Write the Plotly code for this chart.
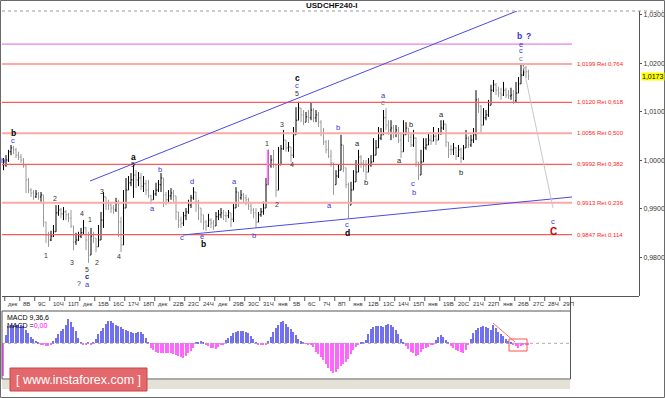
import plotly.graph_objects as go

W, H = 665, 398

title_text = "USDCHF240-I"
day_labels = ["дек", "8В", "9С", "10Ч", "11П", "дек", "15В", "16С", "17Ч", "18П",
              "дек", "22В", "23С", "24Ч", "дек", "29В", "30С", "31Ч", "янв", "5В",
              "6С", "7Ч", "8П", "янв", "12В", "13С", "14Ч", "15П", "янв", "19В",
              "20С", "21Ч", "22П", "янв", "26В", "27С", "28Ч", "29П"]
bars_per_day = 6

y_tick_vals = [0.98, 0.99, 1.00, 1.01, 1.02, 1.03]
y_tick_text = ["0,9800", "0,9900", "1,0000", "1,0100", "1,0200", "1,0300"]

# 4-hour bars, prices in pips relative to 1.0000
close_pips = [
    -9, 1, 18, 26, 22, 11, 7, 1, -11, -40,
    -61, -67, -75, -69, -75, -71, -127, -154, -164, -156,
    -147, -108, -102, -110, -106, -112, -119, -135, -168, -164,
    -156, -149, -139, -164, -195, -156, -160, -178, -164, -123,
    -75, -88, -92, -98, -102, -85, -127, -174, -98, -61,
    -46, -40, -30, -40, -36, -53, -48, -61, -73, -81,
    -69, -61, -50, -36, -71, -81, -73, -67, -73, -106,
    -123, -129, -114, -106, -92, -77, -65, -85, -98, -112,
    -127, -135, -123, -129, -135, -116, -112, -108, -114, -114,
    -108, -121, -98, -65, -77, -71, -77, -81, -94, -102,
    -108, -127, -112, -106, -98, -50, -9, 1, -9, -61,
    -9, 24, 42, 26, 28, 11, 53, 83, 108, 94,
    79, 90, 88, 104, 88, 94, 79, 57, 38, 22,
    9, -5, -50, -32, -20, 32, -15, -50, -92, -61,
    -44, -24, 7, -5, -11, -24, -9, -3, 11, 26,
    46, 53, 88, 73, 63, 67, 57, 63, 42, 18,
    53, 67, 48, 32, 46, -3, -30, -3, 26, 32,
    42, 40, 50, 42, 55, 67, 75, 38, 22, 22,
    26, 9, 22, 5, 26, 46, 32, 42, 53, 125,
    112, 73, 88, 94, 114, 145, 156, 145, 139, 135,
    145, 135, 133, 135, 123, 139, 158, 176, 191, 183,
    174]
high_pips = [
    5, 11, 22, 32, 30, 26, 18, 13, 5, -9,
    -36, -57, -61, -61, -65, -65, -81, -133, -147, -145,
    -133, -92, -92, -98, -96, -102, -108, -102, -139, -149,
    -147, -139, -123, -137, -147, -139, -147, -160, -133, -106,
    -65, -77, -81, -88, -92, -77, -81, -116, -61, -36,
    -32, -26, -5, -20, -24, -26, -32, -40, -40, -71,
    -61, -46, -40, -26, -50, -65, -61, -57, -61, -81,
    -112, -116, -106, -98, -81, -71, -55, -71, -81, -102,
    -112, -123, -110, -119, -123, -106, -102, -98, -102, -106,
    -102, -110, -90, -55, -65, -61, -67, -71, -77, -88,
    -98, -98, -106, -98, -85, -36, 22, 11, 22, -15,
    28, 32, 63, 36, 38, 26, 69, 110, 121, 108,
    104, 100, 104, 119, 108, 104, 100, 83, 67, 42,
    42, 22, -13, -20, -9, 53, 22, -20, -46, -44,
    -20, 1, 22, 11, 1, 1, 5, 11, 46, 42,
    69, 67, 104, 108, 83, 83, 73, 73, 69, 57,
    83, 79, 67, 57, 63, 48, -5, 22, 46, 46,
    57, 53, 69, 57, 67, 83, 83, 73, 38, 32,
    36, 28, 32, 26, 32, 63, 50, 53, 67, 145,
    129, 114, 108, 104, 125, 156, 166, 160, 152, 150,
    162, 150, 145, 150, 145, 162, 172, 197, 201, 195,
    187]
low_pips = [
    -20, -13, -3, 11, 13, 5, 1, -5, -15, -67,
    -67, -75, -81, -77, -81, -85, -137, -170, -178, -166,
    -158, -143, -114, -119, -123, -123, -127, -139, -185, -174,
    -166, -160, -152, -185, -211, -166, -170, -189, -174, -147,
    -139, -102, -102, -108, -110, -106, -158, -189, -116, -71,
    -61, -53, -77, -57, -53, -61, -65, -71, -77, -90,
    -81, -73, -65, -65, -96, -92, -88, -81, -85, -123,
    -139, -139, -135, -123, -110, -98, -81, -106, -123, -129,
    -143, -145, -137, -139, -143, -133, -123, -119, -123, -127,
    -119, -137, -127, -92, -96, -81, -88, -92, -102, -110,
    -119, -139, -127, -116, -112, -92, -36, -15, -15, -75,
    -24, 11, 22, 18, 18, -3, 5, 57, 96, 79,
    73, 79, 77, 83, 79, 79, 69, 50, 32, 15,
    5, -13, -71, -46, -36, -20, -24, -57, -119, -77,
    -53, -34, -5, -15, -24, -40, -24, -13, 5, 15,
    38, 42, 59, 63, 53, 42, 46, 48, 36, 5,
    28, 53, 38, 28, 28, -13, -40, -20, 11, 22,
    32, 32, 42, 32, 42, 53, 63, 28, 5, 11,
    11, 1, 7, -5, 1, 32, 26, 28, 36, 42,
    98, 57, 73, 83, 90, 119, 141, 135, 131, 125,
    133, 129, 127, 125, 117, 119, 145, 162, 174, 170,
    166]

# MACD(9,36,6) histogram, in pips
macd_hist = [
    -33, 8, 17, 18, 18, 18.5, 18, 18, 17, 13,
    10, 6, 4, 2.5, 1, -1, -2, -3, -2.5, -1,
    2, 5, 9, 12, 14, 18, 24, 21, 16, 12,
    5, 1, -1, -1, 0.5, -1, 1, 4, 9, 12,
    15, 19, 22, 22.5, 20, 18, 17, 16, 14, 13,
    12, 11, 10.5, 10.5, 11, 11.5, 9, 5, 1, -5,
    -7, -8.5, -10, -10, -9.5, -9.5, -10, -9.5, -11, -11.5,
    -12.5, -13.5, -15, -13, -10, -8, -5, 1, 1.5, 2,
    1.5, -1, -3, -4.5, -5, -6, -4, -2, -1, 3,
    5, 7, 10, 11, 12, 12.5, 12, 11, 10, 7,
    4, 1.5, -1, -1.5, -2, -1, 2, 6.5, 11, 15,
    18, 21, 22.5, 19, 16, 14, 11.5, 8.5, 4, 2,
    1, -0.5, -1, -1, -4, -9, -11, -13.5, -16.5, -21,
    -25, -28, -30, -29, -25.5, -23, -21, -18.5, -15.5, -11,
    -7, -4, -1, 1, 1, 3, 9, 14, 16.5, 17.5,
    17.5, 17, 16.5, 18, 19, 18.5, 16.5, 13.5, 9, 4,
    1.5, -3, -6, -8.5, -10, -13, -12, -9, -6, -5,
    -3.5, -2, -1, 3, 6.5, 8.5, 6, 3, 1, -3,
    -5, -7, -8, -9, -10, -7, -2, 4, 10, 13,
    15, 16.5, 17.5, 16.5, 15, 13, 18, 15, 11, 9,
    7, 4.5, 2, 1, -1.5, -3, -4.5, -3, -2, -1.5,
    -1]

fib_levels = [1.0199, 1.0120, 1.0056, 0.9992, 0.9913, 0.9847]
fib_ratios = ["0,764", "0,618", "0,500", "0,382", "0,236", "0,114"]
magenta_level = 1.0240
current_price = 1.0173
highlight_bar = 106

# trend lines as (bar index, price)
upper_channel = [(34.6, 0.99577), (205.4, 1.03082)]
lower_channel = [(71.8, 0.98464), (227.4, 0.99247)]
projection = [(207.8, 1.01969), (219.8, 0.99021)]
line_end_bar = 227.4

# wave labels: (bar index, price, text, style)
wave_labels = [
    (-0.2, 0.9999, "b", "blue"), (3.8, 1.0057, "b", "bold"), (3.8, 1.0042, "c", "blue"),
    (17, 0.9805, "1", "num"), (20.6, 0.9921, "2", "num"), (27.4, 0.9789, "3", "num"),
    (31.4, 0.9890, "4", "num"), (33.4, 0.9775, "5", "num"), (33.4, 0.9761, "c", "navy"),
    (33.6, 0.9745, "a", "blue"), (30.2, 0.9747, "?", "num"),
    (34.6, 0.9879, "1", "num"), (37.4, 0.9789, "2", "num"), (39.4, 0.9937, "3", "num"),
    (46.2, 0.9803, "4", "num"), (51.8, 0.9991, "5", "num"), (51.8, 1.0007, "a", "bold"),
    (62.6, 0.9982, "b", "blue"), (59.4, 0.9900, "a", "blue"), (71.4, 0.9842, "c", "blue"),
    (75.4, 0.9956, "d", "blue"), (79.4, 0.9844, "e", "blue"), (79.8, 0.9828, "b", "bold"),
    (92.2, 0.9956, "a", "blue"), (100.2, 0.9846, "b", "blue"),
    (105.4, 1.0036, "1", "num"), (109.4, 0.9910, "2", "num"), (111.4, 1.0075, "3", "num"),
    (115.4, 0.9991, "4", "num"), (117.4, 1.0138, "5", "num"), (117.4, 1.0155, "c", "blue"),
    (117.4, 1.0171, "c", "bold"),
    (130.2, 0.9908, "a", "blue"), (133.8, 1.0069, "b", "blue"), (137.4, 0.9869, "c", "blue"),
    (137.4, 0.9851, "d", "bold"), (141.4, 1.0036, "a", "dark"), (145.0, 0.9954, "b", "dark"),
    (151.8, 1.0134, "a", "blue"), (151.8, 1.0119, "c", "gray"),
    (158.2, 0.9999, "a", "dark"), (163.0, 1.0075, "b", "dark"),
    (163.8, 0.9953, "c", "blue"), (164.2, 0.9933, "b", "blue"),
    (175.0, 1.0094, "a", "dark"), (183.0, 0.9976, "b", "dark"),
    (206.4, 1.0257, "b", "bluebold"), (209.8, 1.0257, "?", "bluebold"),
    (207.0, 1.0240, "e", "blue"), (207.0, 1.0226, "c", "blue"), (207.0, 1.0211, "c", "gray"),
    (219.8, 0.9875, "c", "blue"), (219.8, 0.98546, "C", "red"),
]

assert len(close_pips) == len(high_pips) == len(low_pips) == len(macd_hist), (
    len(close_pips), len(high_pips), len(low_pips), len(macd_hist))

n = len(close_pips)
bars = list(range(n))
close = [1 + c / 10000 for c in close_pips]
opn = [close[0]] + close[:-1]
high = [max(1 + h / 10000, o, c) for h, o, c in zip(high_pips, opn, close)]
low = [min(1 + l / 10000, o, c) for l, o, c in zip(low_pips, opn, close)]


def pxx(x):
    return x / W


def pxy(y):
    return 1 - y / H


FONT = "Liberation Sans, Arial, sans-serif"
X_RANGE = [-0.6, 254.2]
X2_RANGE = [-0.6, 226.6]

fig = go.Figure()
fig.add_trace(go.Ohlc(
    x=bars, open=opn, high=high, low=low, close=close,
    increasing=dict(line=dict(color="#000000", width=1)),
    decreasing=dict(line=dict(color="#9a9a9a", width=1)),
    tickwidth=0.35, hoverinfo="skip", xaxis="x", yaxis="y"))

fig.add_trace(go.Bar(
    x=bars, y=macd_hist, width=0.45,
    marker=dict(color=["#7070f0" if v >= 0 else "#ff66ff" for v in macd_hist],
                line=dict(width=0)),
    xaxis="x2", yaxis="y2", hoverinfo="skip"))

shapes = []
ann = []

# fib lines and labels
for i, (lv, r) in enumerate(zip(fib_levels, fib_ratios)):
    pink = i % 2 == 0
    shapes.append(dict(type="line", xref="x", yref="y", x0=X_RANGE[0], x1=line_end_bar,
                       y0=lv, y1=lv,
                       line=dict(color="#ffa8a8" if pink else "#ff5a5a", width=2 if pink else 1.2)))
    ann.append(dict(x=line_end_bar + 1.2, y=lv, xref="x", yref="y", xanchor="left",
                    yanchor="middle", showarrow=False,
                    text=f"{lv:.4f}".replace(".", ",") + " Ret " + r,
                    font=dict(family=FONT, size=6, color="#ff2020")))

shapes.append(dict(type="line", xref="x", yref="y", x0=X_RANGE[0], x1=line_end_bar,
                   y0=magenta_level, y1=magenta_level, line=dict(color="#e060e0", width=1)))
for seg, col in [(upper_channel, "#4a4ae8"), (lower_channel, "#4a4ae8"), (projection, "#c8c8c8")]:
    (xa, ya), (xb, yb) = seg
    shapes.append(dict(type="line", xref="x", yref="y", x0=xa, y0=ya, x1=xb, y1=yb,
                       line=dict(color=col, width=1)))

# highlighted bar
shapes.append(dict(type="line", xref="x", yref="y", x0=highlight_bar - 0.3, x1=highlight_bar - 0.3,
                   y0=low[highlight_bar], y1=high[highlight_bar],
                   line=dict(color="#ff80ff", width=2)))

# day ticks & labels
for i, lab in enumerate(day_labels):
    xk = bars_per_day * i + 0.5
    shapes.append(dict(type="line", xref="x", yref="paper", x0=xk, x1=xk,
                       y0=pxy(297), y1=pxy(301), line=dict(color="#555", width=1)))
    ann.append(dict(x=xk + 0.5, y=pxy(303.5), xref="x", yref="paper", xanchor="left",
                    yanchor="middle", showarrow=False, text=lab,
                    font=dict(family=FONT, size=6, color="#333")))

# wave labels
styles = {
    "blue": dict(color="#3434dc", size=7.5, bold=False),
    "bluebold": dict(color="#3434dc", size=8.5, bold=True),
    "bold": dict(color="#000000", size=8.5, bold=True),
    "num": dict(color="#333333", size=7, bold=False),
    "dark": dict(color="#222222", size=7.5, bold=False),
    "gray": dict(color="#808080", size=7.5, bold=False),
    "navy": dict(color="#1a1a80", size=7.5, bold=True),
    "red": dict(color="#cc0000", size=10, bold=True),
}
for xk, yp, t, st in wave_labels:
    s = styles[st]
    ann.append(dict(x=xk, y=yp, xref="x", yref="y", showarrow=False,
                    xanchor="center", yanchor="middle",
                    text=f"<b>{t}</b>" if s["bold"] else t,
                    font=dict(family=FONT, size=s["size"], color=s["color"])))

# current price tag
ann.append(dict(x=pxx(640.5), y=current_price, xref="paper", yref="y", xanchor="left",
                yanchor="middle", showarrow=False, text=f"{current_price:.4f}".replace(".", ","),
                bgcolor="#ffff00", borderpad=0,
                font=dict(family=FONT, size=7, color="#000")))

# title
ann.append(dict(x=pxx(332), y=pxy(6), xref="paper", yref="paper", showarrow=False,
                xanchor="center", yanchor="middle",
                text=f"<b>{title_text}</b>", font=dict(family=FONT, size=8, color="#111")))

# MACD panel items
shapes.append(dict(type="line", xref="x2", yref="y2", x0=X2_RANGE[0], x1=X2_RANGE[1], y0=0, y1=0,
                   line=dict(color="#aaaaaa", width=1, dash="dot")))
shapes.append(dict(type="line", xref="x2", yref="y2", x0=195.8, y0=20.3, x1=204.6, y1=1.3,
                   line=dict(color="#ff7070", width=1)))
shapes.append(dict(type="rect", xref="x2", yref="y2", x0=202.2, x1=209.4, y0=-7.7, y1=4.3,
                   line=dict(color="#ff5050", width=1)))
ann.append(dict(x=pxx(5), y=pxy(317), xref="paper", yref="paper", xanchor="left", yanchor="middle",
                showarrow=False, text="MACD 9,36,6", font=dict(family=FONT, size=7, color="#000")))
ann.append(dict(x=pxx(5), y=pxy(325.5), xref="paper", yref="paper", xanchor="left", yanchor="middle",
                showarrow=False, text="MACD =<span style='color:#ff00ff'>0,00</span>",
                font=dict(family=FONT, size=7, color="#000")))


# frames (paper)
def prect(x0, y0, x1, y1, **kw):
    return dict(type="rect", xref="paper", yref="paper", x0=pxx(x0), x1=pxx(x1),
                y0=pxy(y1), y1=pxy(y0), **kw)


def pline(x0, y0, x1, y1, color="#555", width=1, dash="solid"):
    return dict(type="line", xref="paper", yref="paper", x0=pxx(x0), x1=pxx(x1),
                y0=pxy(y0), y1=pxy(y1), line=dict(color=color, width=width, dash=dash))


shapes += [
    prect(0.5, 0.5, 664.5, 397.5, line=dict(color="#6a6a6a", width=1)),
    pline(2, 11, 663, 11, color="#9a9a9a", dash="dot"),
    pline(2, 296.5, 639, 296.5, color="#555"),
    pline(570.5, 296, 570.5, 311, color="#555"),
    prect(2, 311, 570.5, 379, line=dict(color="#555", width=1)),
    prect(2, 380, 570, 389, fillcolor="#e4e1d6", line=dict(width=0), layer="below"),
    prect(10, 368, 147, 391, fillcolor="#e4676b", line=dict(color="#c04848", width=1)),
]
ann.append(dict(x=pxx(78.5), y=pxy(379.5), xref="paper", yref="paper", showarrow=False,
                xanchor="center", yanchor="middle",
                text="[ www.instaforex.com ]", font=dict(family=FONT, size=12.5, color="#ffffff")))

fig.update_layout(
    width=W, height=H, margin=dict(l=0, r=0, t=0, b=0, autoexpand=False),
    paper_bgcolor="#ffffff", plot_bgcolor="rgba(0,0,0,0)", showlegend=False,
    shapes=shapes, annotations=ann, bargap=0,
    xaxis=dict(domain=[pxx(2), pxx(639)], range=X_RANGE, visible=False,
               rangeslider=dict(visible=False), anchor="y"),
    yaxis=dict(domain=[pxy(296), pxy(11)], range=[0.97206, 1.03082], side="right",
               tickvals=y_tick_vals, ticktext=y_tick_text, ticks="outside", ticklen=2,
               tickcolor="#555", showline=True, linecolor="#555", linewidth=1,
               showgrid=False, zeroline=False, anchor="x", ticklabelstandoff=0,
               tickfont=dict(family=FONT, size=7, color="#333")),
    xaxis2=dict(domain=[pxx(2), pxx(570)], range=X2_RANGE, visible=False, anchor="y2"),
    yaxis2=dict(domain=[pxy(379), pxy(311)], range=[-35.7, 32.3], visible=False, anchor="x2"),
)

fig.write_html("out.html", config={"displayModeBar": False},
               post_script="document.body.style.margin='0';document.body.style.overflow='hidden';")
